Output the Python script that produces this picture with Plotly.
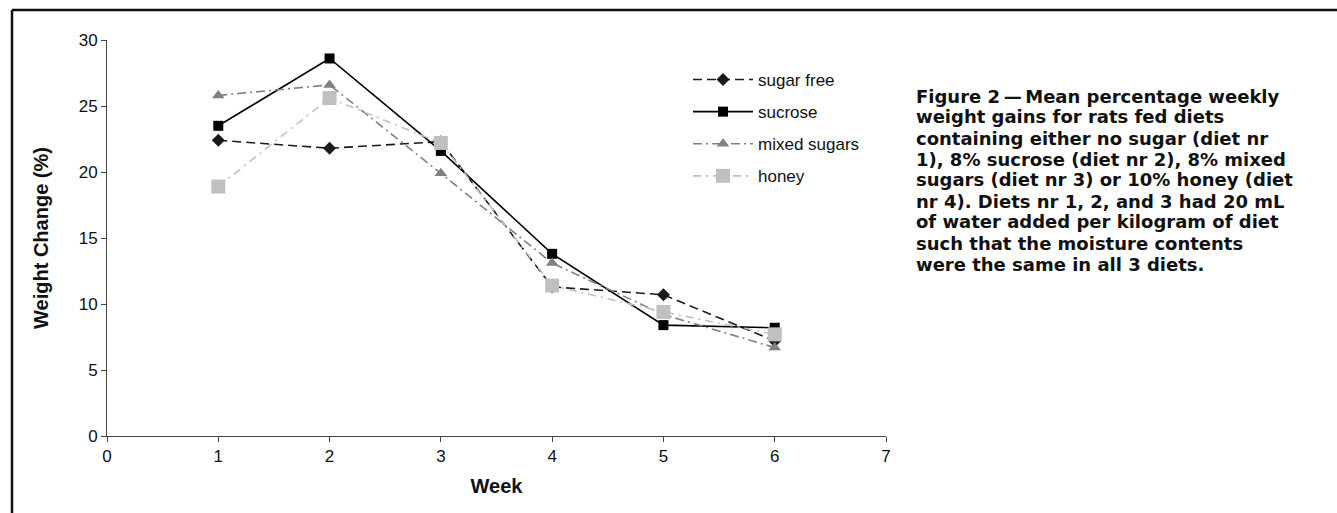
import plotly.graph_objects as go

weeks = [1, 2, 3, 4, 5, 6]
sugar_free = [22.4, 21.8, 22.3, 11.3, 10.7, 7.2]
sucrose = [23.5, 28.6, 21.6, 13.8, 8.4, 8.2]
mixed_sugars = [25.8, 26.6, 19.9, 13.1, 9.2, 6.7]
honey = [18.9, 25.6, 22.2, 11.4, 9.4, 7.7]

caption_lines = [
    "Figure 2\u2009\u2014\u2009Mean percentage weekly",
    "weight gains for rats fed diets",
    "containing either no sugar (diet nr",
    "1), 8% sucrose (diet nr 2), 8% mixed",
    "sugars (diet nr 3) or 10% honey (diet",
    "nr 4). Diets nr 1, 2, and 3 had 20 mL",
    "of water added per kilogram of diet",
    "such that the moisture contents",
    "were the same in all 3 diets.",
]

W, H = 1337, 513
L, R, T, B = 107, 451, 40, 77
pw, ph = W - L - R, H - T - B

def px(xp):
    return (xp - L) / pw

def py(yp):
    return (H - B - yp) / ph

fig = go.Figure()
series = [
    ("sugar free", sugar_free, "#1a1a1a", "9px,5px", "diamond", 10),
    ("sucrose", sucrose, "#000000", "solid", "square", 10),
    ("mixed sugars", mixed_sugars, "#808080", "9px,4px,2px,4px", "triangle-up", 11),
    ("honey", honey, "#c0c0c0", "8px,5px,2px,5px", "square", 14),
]
for i, (name, vals, col, dash, sym, ms) in enumerate(series):
    fig.add_trace(go.Scatter(
        x=weeks, y=vals, name=name, mode="lines+markers",
        line=dict(color=col, width=1.6, dash=dash),
        marker=dict(symbol=sym, size=ms, color=col, line=dict(width=0)),
        legendgroup=f"g{i}",
    ))

fig.update_layout(
    width=W, height=H,
    margin=dict(l=L, r=R, t=T, b=B),
    paper_bgcolor="white", plot_bgcolor="white",
    font=dict(family="Liberation Sans, Arial, sans-serif", color="#111111", size=17),
    showlegend=True,
    legend=dict(
        x=px(688), y=py(62), xanchor="left", yanchor="top",
        bgcolor="rgba(0,0,0,0)", font=dict(size=17, color="#111111"),
        itemwidth=60, tracegroupgap=7, traceorder="grouped",
    ),
    xaxis=dict(
        range=[0, 7], tickvals=[0, 1, 2, 3, 4, 5, 6, 7],
        showgrid=False, zeroline=False, showline=True,
        linecolor="#444444", linewidth=1, ticks="outside", ticklen=5,
        tickcolor="#444444", tickfont=dict(size=17),
        title=dict(text="<b>Week</b>", font=dict(size=20), standoff=13),
    ),
    yaxis=dict(
        range=[0, 30], tickvals=[0, 5, 10, 15, 20, 25, 30],
        showgrid=False, zeroline=False, showline=True,
        linecolor="#444444", linewidth=1, ticks="outside", ticklen=5,
        tickcolor="#444444", tickfont=dict(size=17),
        title=dict(text="<b>Weight Change (%)</b>", font=dict(size=20), standoff=24),
    ),
)

# frame
fig.add_shape(type="line", xref="paper", yref="paper",
              x0=px(12), x1=px(W + 5), y0=py(10), y1=py(10),
              line=dict(color="#111111", width=2.5))
fig.add_shape(type="line", xref="paper", yref="paper",
              x0=px(12), x1=px(12), y0=py(10), y1=py(H + 5),
              line=dict(color="#111111", width=2.5))

for k, line in enumerate(caption_lines):
    fig.add_annotation(
        text=f"<b>{line}</b>", xref="paper", yref="paper",
        x=px(914), y=py(96 + 21 * k), xanchor="left", yanchor="middle",
        showarrow=False, align="left",
        font=dict(family="DejaVu Sans, sans-serif", size=18, color="#111111"),
    )

fig.write_html("out.html")
